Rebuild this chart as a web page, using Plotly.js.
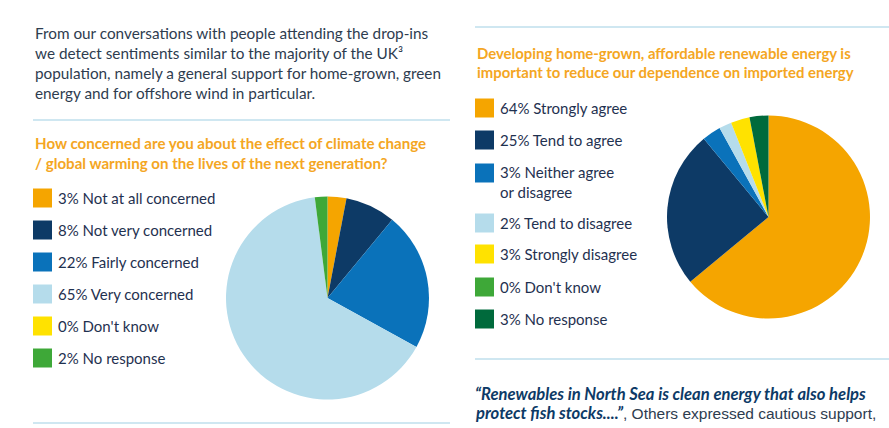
<!DOCTYPE html>
<html>
<head>
<meta charset="utf-8">
<script src="https://cdn.plot.ly/plotly-3.0.1.min.js"></script>
<style>
html,body{margin:0;padding:0;background:#fff;}
#chart{width:889px;height:428px;}
</style>
</head>
<body>
<div id="chart"></div>
<script>
// ---- Data ----
const concernCategories = ["Not at all concerned", "Not very concerned", "Fairly concerned", "Very concerned", "Don't know", "No response"];
const concernValues = [3, 8, 22, 65, 0, 2];
const concernColors = ["#F5A500", "#0D3A66", "#0A72BA", "#B5DCEB", "#FFE200", "#3EA838"];

const energyCategories = ["Strongly agree", "Tend to agree", "Neither agree<br>or disagree", "Tend to disagree", "Strongly disagree", "Don't know", "No response"];
const energyValues = [64, 25, 3, 2, 3, 0, 3];
const energyColors = ["#F5A500", "#0D3A66", "#0A72BA", "#B5DCEB", "#FFE200", "#3EA838", "#006A3C"];

const introText = "From our conversations with people attending the drop-ins<br>we detect sentiments similar to the majority of the UK³<br>population, namely a general support for home-grown, green<br>energy and for offshore wind in particular.";
const concernTitle = "How concerned are you about the effect of climate change<br>/ global warming on the lives of the next generation?";
const energyTitle = "Developing home-grown, affordable renewable energy is<br>important to reduce our dependence on imported energy";
const quoteBold1 = "“Renewables in North Sea is clean energy that also helps";
const quoteBold2 = "protect fish stocks....”";
const quoteRest = ", Others expressed cautious support,";

// ---- Layout helpers ----
const W = 889, H = 428;
const px = x => x / W;
const py = y => 1 - y / H;
const FONT = "Lato, 'Open Sans', sans-serif";
const BODY = "#2E3C4F";
const LEG = "#1F3150";
const ORANGE = "#F4A623";
const RULE = "#BFDFEC";

const traces = [
  {
    type: "pie",
    values: concernValues,
    labels: concernCategories,
    marker: {colors: concernColors, line: {width: 0}},
    sort: false,
    direction: "clockwise",
    rotation: 0,
    textinfo: "none",
    showlegend: false,
    domain: {x: [px(226), px(429)], y: [py(399.5), py(196.5)]}
  },
  {
    type: "pie",
    values: energyValues,
    labels: energyCategories,
    marker: {colors: energyColors, line: {width: 0}},
    sort: false,
    direction: "clockwise",
    rotation: 0,
    textinfo: "none",
    showlegend: false,
    domain: {x: [px(667), px(870)], y: [py(318.5), py(115.5)]}
  }
];

const annotations = [];
const shapes = [];

function txt(x, y, text, size, color, extra) {
  annotations.push(Object.assign({
    xref: "paper", yref: "paper", x: px(x), y: py(y),
    xanchor: "left", yanchor: "middle", align: "left",
    showarrow: false, text: text,
    font: {family: FONT, size: size, color: color}
  }, extra || {}));
}
function rule(x0, x1, y) {
  shapes.push({type: "line", xref: "paper", yref: "paper",
    x0: px(x0), x1: px(x1), y0: py(y), y1: py(y),
    line: {color: RULE, width: 1.5}});
}
function swatch(x, y, color) {
  shapes.push({type: "rect", xref: "paper", yref: "paper",
    x0: px(x), x1: px(x + 19), y0: py(y + 9.5), y1: py(y - 9.5),
    fillcolor: color, line: {width: 0}});
}

// Intro paragraph
txt(33, 63, introText, 15.3, BODY);
rule(33, 450, 120);
txt(33, 153, "<b>" + concernTitle + "</b>", 15.1, ORANGE);

// Left legend
const leftRows = [198, 230, 262, 294, 326, 358];
concernCategories.forEach((c, i) => {
  swatch(33, leftRows[i], concernColors[i]);
  txt(56, leftRows[i], concernValues[i] + "% " + c, 15, LEG);
});
rule(33, 450, 423);

// Right section
rule(475, 889, 27);
txt(475, 62.5, "<b>" + energyTitle + "</b>", 14.9, ORANGE);
const rightRows = [108, 140, 173, 223, 254, 287, 319];
energyCategories.forEach((c, i) => {
  swatch(475, rightRows[i], energyColors[i]);
  const multi = c.indexOf("<br>") >= 0;
  txt(498, multi ? rightRows[i] + 9 : rightRows[i], energyValues[i] + "% " + c, 15, LEG);
});
rule(475, 889, 359);

// Quote
txt(473, 394, "<b><i>" + quoteBold1 + "</i></b>", 16.6, "#0D3A66");
txt(473, 413, "<b><i>" + quoteBold2 + "</i></b>" +
  "<span style=\"font-family:'Liberation Sans', Arial, sans-serif;font-size:15.5px;color:#2E3C4F\">" + quoteRest + "</span>",
  16.6, "#0D3A66");

const layout = {
  width: W, height: H,
  margin: {l: 0, r: 0, t: 0, b: 0, pad: 0},
  paper_bgcolor: "#ffffff",
  plot_bgcolor: "#ffffff",
  showlegend: false,
  annotations: annotations,
  shapes: shapes,
  font: {family: FONT}
};

Plotly.newPlot("chart", traces, layout, {displayModeBar: false, staticPlot: true});
</script>
</body>
</html>
